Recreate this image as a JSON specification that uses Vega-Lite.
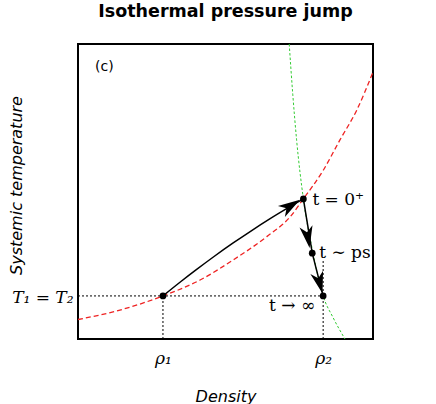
{
  "$schema": "https://vega.github.io/schema/vega-lite/v6.json",
  "autosize": {"type": "none"},
  "width": 295,
  "height": 295,
  "padding": {"left": 78, "top": 44, "right": 63, "bottom": 65},
  "background": "white",
  "title": {"text": "Isothermal pressure jump", "font": "DejaVu Sans", "fontSize": 17.5, "fontWeight": "bold", "color": "black", "anchor": "middle", "baseline": "alphabetic", "offset": 10},
  "config": {"view": {"stroke": "black", "strokeWidth": 2}, "axis": {"grid": false, "ticks": false, "domain": false}},
  "datasets": {
    "guides": [
      {"x": 0, "y": 0.146, "x2": 0.831, "y2": 0.146},
      {"x": 0.288, "y": 0, "x2": 0.288, "y2": 0.146},
      {"x": 0.831, "y": 0, "x2": 0.831, "y2": 0.268}
    ],
    "red": [
      {"x": 0, "y": 0.066}, {"x": 0.142, "y": 0.098}, {"x": 0.288, "y": 0.146}, {"x": 0.414, "y": 0.2},
      {"x": 0.526, "y": 0.268}, {"x": 0.64, "y": 0.347}, {"x": 0.719, "y": 0.414}, {"x": 0.764, "y": 0.475},
      {"x": 0.832, "y": 0.573}, {"x": 0.888, "y": 0.675}, {"x": 0.945, "y": 0.776}, {"x": 1.0, "y": 0.905}
    ],
    "green": [
      {"x": 0.716, "y": 1.0}, {"x": 0.728, "y": 0.83}, {"x": 0.741, "y": 0.675}, {"x": 0.764, "y": 0.475},
      {"x": 0.795, "y": 0.3}, {"x": 0.831, "y": 0.146}, {"x": 0.865, "y": 0.072}, {"x": 0.905, "y": 0.0}
    ],
    "arrow1": [
      {"x": 0.288, "y": 0.146}, {"x": 0.35, "y": 0.1957}, {"x": 0.4, "y": 0.2342}, {"x": 0.46, "y": 0.2788}, {"x": 0.526, "y": 0.3255},
      {"x": 0.59, "y": 0.3686}, {"x": 0.65, "y": 0.4071}, {"x": 0.71, "y": 0.4435}, {"x": 0.764, "y": 0.475}
    ],
    "segs": [
      {"x": 0.764, "y": 0.475, "x2": 0.794, "y2": 0.291},
      {"x": 0.794, "y": 0.291, "x2": 0.831, "y2": 0.146}
    ],
    "heads": [
      {"x": 0.721, "y": 0.452, "heading": 58},
      {"x": 0.779, "y": 0.345, "heading": 170.6},
      {"x": 0.819, "y": 0.19, "heading": 164.7}
    ],
    "states": [
      {"x": 0.288, "y": 0.146, "label": ""},
      {"x": 0.764, "y": 0.475, "label": "t = 0⁺"},
      {"x": 0.794, "y": 0.291, "label": "t ∼ ps"},
      {"x": 0.831, "y": 0.146, "label": "t → ∞"}
    ],
    "panel": [{"x": 0.058, "y": 0.923, "label": "(c)"}]
  },
  "layer": [
    {
      "data": {"name": "guides"},
      "mark": {"type": "rule", "color": "black", "strokeWidth": 1, "strokeDash": [2, 2]},
      "encoding": {
        "x": {"field": "x", "type": "quantitative", "scale": {"domain": [0, 1], "nice": false, "zero": false},
          "axis": {"values": [0.288, 0.831], "labelExpr": "datum.value < 0.5 ? 'ρ₁' : 'ρ₂'", "labelFont": "DejaVu Serif", "labelFontStyle": "italic", "labelFontSize": 17, "labelColor": "black", "labelPadding": 11,
            "title": "Density", "titleFont": "DejaVu Sans", "titleFontStyle": "italic", "titleFontWeight": "normal", "titleFontSize": 16, "titleColor": "black", "titleY": 62, "titleBaseline": "alphabetic"}},
        "y": {"field": "y", "type": "quantitative", "scale": {"domain": [0, 1], "nice": false, "zero": false},
          "axis": {"values": [0.146], "labelExpr": "'T₁ = T₂'", "labelFont": "DejaVu Serif", "labelFontStyle": "italic", "labelFontSize": 17, "labelColor": "black", "labelPadding": 5, "labelBaseline": "middle", "labelOffset": 2,
            "title": "Systemic temperature", "titleFont": "DejaVu Sans", "titleFontStyle": "italic", "titleFontWeight": "normal", "titleFontSize": 16, "titleColor": "black", "titleX": -57, "titleY": 141, "titleAngle": -90, "titleBaseline": "alphabetic", "titleAlign": "center"}},
        "x2": {"field": "x2"},
        "y2": {"field": "y2"}
      }
    },
    {
      "data": {"name": "red"},
      "mark": {"type": "line", "color": "#ee2222", "strokeWidth": 1.3, "strokeDash": [5, 3], "interpolate": "monotone", "clip": true},
      "encoding": {"x": {"field": "x", "type": "quantitative"}, "y": {"field": "y", "type": "quantitative"}}
    },
    {
      "data": {"name": "green"},
      "mark": {"type": "line", "color": "#33cc33", "strokeWidth": 1, "strokeDash": [2.5, 2], "interpolate": "monotone", "clip": true},
      "encoding": {"x": {"field": "x", "type": "quantitative"}, "y": {"field": "y", "type": "quantitative"}}
    },
    {
      "data": {"name": "arrow1"},
      "mark": {"type": "line", "color": "black", "strokeWidth": 1.5, "interpolate": "monotone"},
      "encoding": {"x": {"field": "x", "type": "quantitative"}, "y": {"field": "y", "type": "quantitative"}}
    },
    {
      "data": {"name": "segs"},
      "mark": {"type": "rule", "color": "black", "strokeWidth": 1.5},
      "encoding": {"x": {"field": "x", "type": "quantitative"}, "y": {"field": "y", "type": "quantitative"}, "x2": {"field": "x2"}, "y2": {"field": "y2"}}
    },
    {
      "data": {"name": "heads"},
      "mark": {"type": "point", "shape": "M0,-1 L0.6,1 L0,0.45 L-0.6,1 Z", "filled": true, "color": "black", "opacity": 1, "size": 480, "strokeWidth": 0},
      "encoding": {"x": {"field": "x", "type": "quantitative"}, "y": {"field": "y", "type": "quantitative"}, "angle": {"field": "heading", "type": "quantitative", "scale": null}}
    },
    {
      "data": {"name": "states"},
      "mark": {"type": "point", "shape": "circle", "filled": true, "color": "black", "opacity": 1, "size": 45},
      "encoding": {"x": {"field": "x", "type": "quantitative"}, "y": {"field": "y", "type": "quantitative"}}
    },
    {
      "data": {"name": "states"},
      "transform": [{"filter": "datum.label === 't = 0⁺'"}],
      "mark": {"type": "text", "font": "DejaVu Serif", "fontSize": 17, "color": "black", "align": "left", "baseline": "middle", "dx": 9, "dy": 1},
      "encoding": {"x": {"field": "x", "type": "quantitative"}, "y": {"field": "y", "type": "quantitative"}, "text": {"field": "label"}}
    },
    {
      "data": {"name": "states"},
      "transform": [{"filter": "datum.label === 't ∼ ps'"}],
      "mark": {"type": "text", "font": "DejaVu Serif", "fontSize": 17, "color": "black", "align": "left", "baseline": "middle", "dx": 7, "dy": 0},
      "encoding": {"x": {"field": "x", "type": "quantitative"}, "y": {"field": "y", "type": "quantitative"}, "text": {"field": "label"}}
    },
    {
      "data": {"name": "states"},
      "transform": [{"filter": "datum.label === 't → ∞'"}],
      "mark": {"type": "text", "font": "DejaVu Serif", "fontSize": 17, "color": "black", "align": "right", "baseline": "middle", "dx": -8, "dy": 10},
      "encoding": {"x": {"field": "x", "type": "quantitative"}, "y": {"field": "y", "type": "quantitative"}, "text": {"field": "label"}}
    },
    {
      "data": {"name": "panel"},
      "mark": {"type": "text", "font": "DejaVu Sans", "fontSize": 14, "color": "black", "align": "left", "baseline": "middle"},
      "encoding": {"x": {"field": "x", "type": "quantitative"}, "y": {"field": "y", "type": "quantitative"}, "text": {"field": "label"}}
    }
  ]
}
